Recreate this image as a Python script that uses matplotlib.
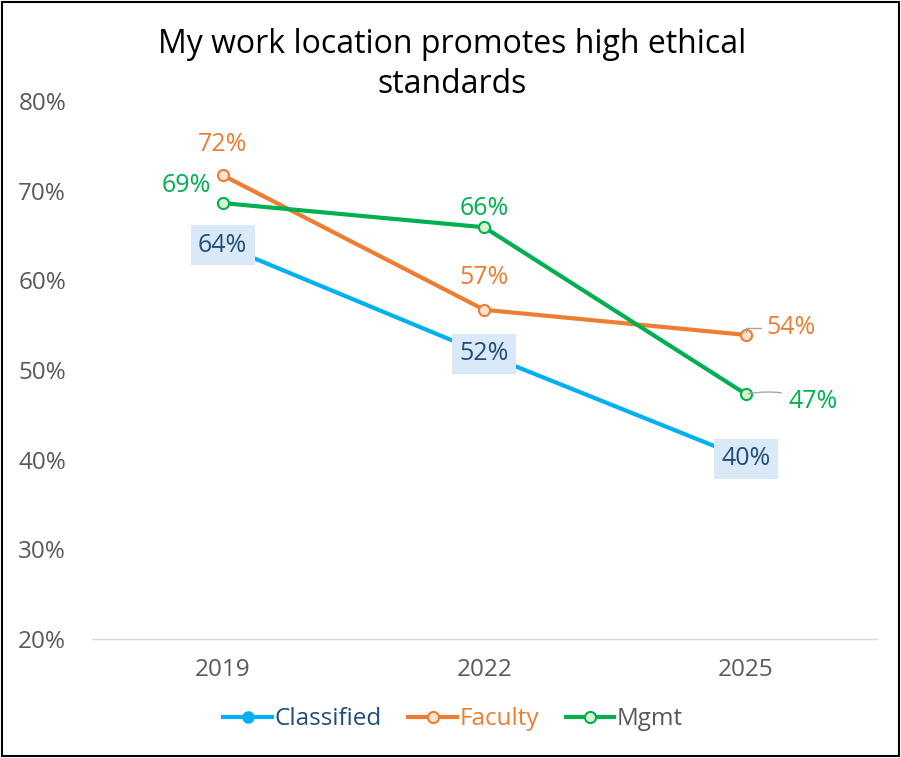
import matplotlib
matplotlib.use("Agg")
import matplotlib.pyplot as plt
from matplotlib.lines import Line2D
from matplotlib.patches import Rectangle

plt.rcParams['font.family'] = ['Open Sans', 'DejaVu Sans']

years = ["2019", "2022", "2025"]
classified = [63.9, 51.8, 40.1]
faculty = [71.7, 56.7, 53.9]
mgmt = [68.6, 65.9, 47.3]
yticks = [20, 30, 40, 50, 60, 70, 80]

C_BLUE = "#00B0F0"
C_ORANGE = "#ED7D31"
C_GREEN = "#00B050"
C_DARK = "#1F4E79"
C_GREY = "#595959"

fig = plt.figure(figsize=(9.01, 7.58), dpi=100)
ax = fig.add_axes([0.102, 0.157, 0.871, 0.710])
x = list(range(len(years)))

lw = 3
ax.plot(x, classified, color=C_BLUE, lw=lw, marker='o', ms=8,
        mfc=C_BLUE, mec=C_BLUE, zorder=3)
ax.plot(x, faculty, color=C_ORANGE, lw=lw, marker='o', ms=8,
        mfc="#FBE2D5", mec=C_ORANGE, mew=1.5, zorder=3)
ax.plot(x, mgmt, color=C_GREEN, lw=lw, marker='o', ms=8,
        mfc="#D9F2D0", mec=C_GREEN, mew=1.5, zorder=3)

ax.set_xlim(-0.5, 2.5)
ax.set_ylim(20, 80)
ax.set_yticks(yticks)
ax.set_yticklabels([f"{v}%" for v in yticks])
ax.set_xticks(x)
ax.set_xticklabels(years)
for s in ["top", "right", "left"]:
    ax.spines[s].set_visible(False)
ax.spines["bottom"].set_color("#D9D9D9")
ax.spines["bottom"].set_linewidth(1)
ax.tick_params(axis='both', length=0, labelsize=17.5, labelcolor=C_GREY)
ax.tick_params(axis='y', pad=18.5)
ax.tick_params(axis='x', pad=14)

fs = 18
# Faculty labels
ax.annotate(f"{round(faculty[0])}%", (0, faculty[0]), xytext=(0, 31), textcoords='offset pixels',
            ha='center', va='center', color=C_ORANGE, fontsize=fs)
ax.annotate(f"{round(faculty[1])}%", (1, faculty[1]), xytext=(0, 32), textcoords='offset pixels',
            ha='center', va='center', color=C_ORANGE, fontsize=fs)
ax.annotate(f"{round(faculty[2])}%", (2, faculty[2]), xytext=(45, 7), textcoords='offset pixels',
            ha='center', va='center', color=C_ORANGE, fontsize=fs,
            arrowprops=dict(arrowstyle='-', color='#A6A6A6', lw=1,
                            connectionstyle='angle,angleA=0,angleB=90,rad=0',
                            shrinkA=2, shrinkB=2))
# Mgmt labels
ax.annotate(f"{round(mgmt[0])}%", (0, mgmt[0]), xytext=(-36, 18), textcoords='offset pixels',
            ha='center', va='center', color=C_GREEN, fontsize=fs)
ax.annotate(f"{round(mgmt[1])}%", (1, mgmt[1]), xytext=(0, 19), textcoords='offset pixels',
            ha='center', va='center', color=C_GREEN, fontsize=fs)
ax.annotate(f"{round(mgmt[2])}%", (2, mgmt[2]), xytext=(67, -7), textcoords='offset pixels',
            ha='center', va='center', color=C_GREEN, fontsize=fs,
            arrowprops=dict(arrowstyle='-', color='#A6A6A6', lw=1,
                            connectionstyle='arc3,rad=0.15',
                            shrinkA=3, shrinkB=2))
# Classified labels (boxed, centered on point)
for i, v in enumerate(classified):
    ax.annotate(f"{round(v)}%", (i, v), xytext=(0, 0), textcoords='offset pixels',
                ha='center', va='center', color=C_DARK, fontsize=fs, zorder=5,
                bbox=dict(boxstyle='square,pad=0.3', fc='#DAE9F7', ec='none'))

fig.text(0.502, 0.915, "My work location promotes high ethical\nstandards", ha='center', va='center',
         fontsize=23, color='black', linespacing=1.3)

handles = [
    Line2D([], [], color=C_BLUE, lw=lw, marker='o', ms=8, mfc=C_BLUE, mec=C_BLUE),
    Line2D([], [], color=C_ORANGE, lw=lw, marker='o', ms=8, mfc="#FBE2D5", mec=C_ORANGE, mew=1.5),
    Line2D([], [], color=C_GREEN, lw=lw, marker='o', ms=8, mfc="#D9F2D0", mec=C_GREEN, mew=1.5),
]
leg = fig.legend(handles, ["Classified", "Faculty", "Mgmt"], loc='center', ncol=3,
                 bbox_to_anchor=(0.503, 0.051), frameon=False, fontsize=17.5,
                 handlelength=2.0, handletextpad=0.1, columnspacing=1.1)
for t, c in zip(leg.get_texts(), [C_DARK, C_ORANGE, C_GREY]):
    t.set_color(c)

fig.patches.append(Rectangle((0.002, 0.002), 0.996, 0.996, transform=fig.transFigure,
                             fill=False, ec='black', lw=1.5))

fig.savefig("out.png", dpi=100)
